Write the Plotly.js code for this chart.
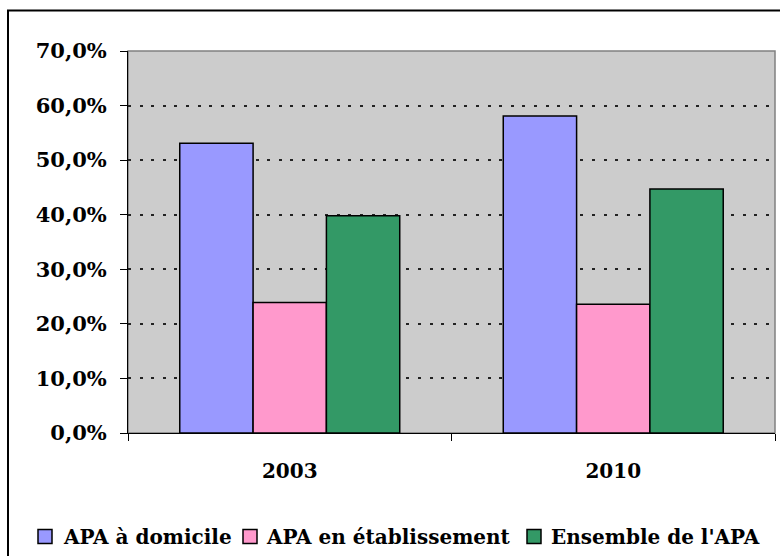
<!DOCTYPE html>
<html>
<head>
<meta charset="utf-8">
<script src="https://cdn.plot.ly/plotly-3.0.1.min.js"></script>
<style>
  html, body { margin: 0; padding: 0; background: #fff; }
  #chart { width: 780px; height: 556px; }
</style>
</head>
<body>
<div id="chart"></div>
<script>
const categories = ['2003', '2010'];
const seriesNames = ['APA à domicile', 'APA en établissement', "Ensemble de l'APA"];
const domicile = [0.531, 0.581];
const etablissement = [0.239, 0.236];
const ensemble = [0.398, 0.447];
const yTicks = [0, 0.1, 0.2, 0.3, 0.4, 0.5, 0.6, 0.7];

const colors = ['#9999FF', '#FF99CC', '#339966'];
const values = [domicile, etablissement, ensemble];
const FONT = 'DejaVu Serif, serif';

// plot area in pixels (for legend placement)
const PL = 128, PR = 775, PT = 51, PB = 433;
const px2x = p => (p - PL) / (PR - PL);
const px2y = p => (PB - p) / (PB - PT);

const traces = values.map((v, i) => ({
  type: 'bar',
  name: seriesNames[i],
  x: categories,
  y: v,
  marker: { color: colors[i], line: { color: '#000', width: 1.5 } },
  hoverinfo: 'x+y'
}));

// custom legend (Excel-like, compact)
const legendSquareX = [38, 243, 527];
const legendTextX = [61, 264, 549];
const legendShapes = legendSquareX.map((sx, i) => ({
  type: 'rect', xref: 'paper', yref: 'paper',
  x0: px2x(sx), x1: px2x(sx + 14), y0: px2y(543.5), y1: px2y(529.5),
  fillcolor: colors[i], line: { color: '#000', width: 1.5 }
}));
const legendAnnotations = legendTextX.map((tx, i) => ({
  xref: 'paper', yref: 'paper', x: px2x(tx), y: px2y(536.5),
  xanchor: 'left', yanchor: 'middle', showarrow: false,
  text: seriesNames[i],
  font: { family: FONT, size: 20, color: '#000', weight: 'bold' }
}));

const layout = {
  width: 780, height: 556,
  margin: { l: PL, r: 780 - PR, t: PT, b: 556 - PB },
  paper_bgcolor: '#ffffff',
  plot_bgcolor: '#CCCCCC',
  separators: ', ',
  barmode: 'group',
  bargap: 0.32,
  bargroupgap: 0,
  font: { family: FONT, size: 20, color: '#000' },
  showlegend: false,
  xaxis: {
    type: 'category',
    tickson: 'boundaries',
    ticks: 'outside', ticklen: 7, tickcolor: '#000', tickwidth: 1,
    showline: true, linecolor: '#000', linewidth: 1,
    showgrid: false,
    tickfont: { family: FONT, size: 20, weight: 'bold' },
    ticklabelstandoff: 20,
    fixedrange: true
  },
  yaxis: {
    range: [0, 0.7],
    tickvals: yTicks,
    tickformat: '.1%',
    ticks: 'outside', ticklen: 7, tickcolor: '#000', tickwidth: 1,
    showline: true, linecolor: '#000', linewidth: 1,
    showgrid: true, gridcolor: '#222', gridwidth: 2,
    griddash: '3px,8.6px',
    zeroline: false,
    tickfont: { family: FONT, size: 21, weight: 'bold' },
    ticklabelstandoff: 9,
    fixedrange: true
  },
  annotations: legendAnnotations,
  shapes: [
    { type: 'rect', xref: 'paper', yref: 'paper', x0: 0, x1: 1, y0: 0, y1: 1,
      line: { color: '#808080', width: 1.5 }, layer: 'below', fillcolor: 'rgba(0,0,0,0)' },
    { type: 'rect', xref: 'paper', yref: 'paper', x0: px2x(8), x1: px2x(800), y0: px2y(600), y1: px2y(10.5),
      line: { color: '#000', width: 2 }, fillcolor: 'rgba(0,0,0,0)' }
  ].concat(legendShapes)
};

Plotly.newPlot('chart', traces, layout, { displayModeBar: false, staticPlot: true });
</script>
</body>
</html>
